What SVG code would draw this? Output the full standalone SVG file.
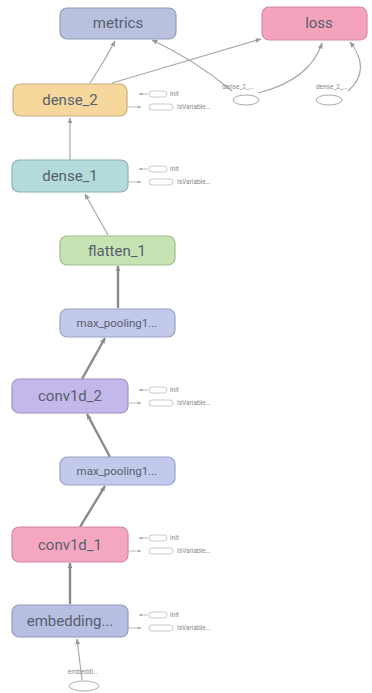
<svg xmlns="http://www.w3.org/2000/svg" width="372" height="693" viewBox="0 0 372 693">
<defs>
<marker id="ah" viewBox="0 0 10 10" refX="9" refY="5" markerWidth="5" markerHeight="5" orient="auto"><path d="M0,1 L10,5 L0,9 z" fill="#999"/></marker>
<marker id="aht" viewBox="0 0 10 10" refX="9" refY="5" markerWidth="6" markerHeight="6" markerUnits="userSpaceOnUse" orient="auto"><path d="M0,1 L10,5 L0,9 z" fill="#8a8a8a"/></marker>
<marker id="ahs" viewBox="0 0 10 10" refX="9" refY="5" markerWidth="4" markerHeight="4" orient="auto"><path d="M0,1 L10,5 L0,9 z" fill="#aaa"/></marker>
<style>
.n{stroke-width:1.2}
.lbl{font-family:Roboto,"Liberation Sans",sans-serif;font-size:15px;fill:#56606e;text-anchor:middle;dominant-baseline:central}
.sm{font-family:Roboto,"Liberation Sans",sans-serif;font-size:11.5px;fill:#56606e;text-anchor:middle;dominant-baseline:central}
.tiny{font-family:Roboto,"Liberation Sans",sans-serif;font-size:6.5px;fill:#888;dominant-baseline:central}
.e{fill:none;stroke:#a8a8a8;stroke-width:1.2;marker-end:url(#ah)}
.t{fill:none;stroke:#8a8a8a;stroke-width:2.4;marker-end:url(#aht)}
.ax{fill:none;stroke:#b0b0b0;stroke-width:0.9;marker-end:url(#ahs)}
.ar{fill:#fff;stroke:#bbb;stroke-width:0.8}
.el{fill:#fff;stroke:#aaa;stroke-width:1}
</style>
</defs>
<rect width="372" height="693" fill="#fff"/>
<g id="connectors">
<path class="e" d="M90,83 Q104,62 115,41"/>
<path class="e" d="M112,83 L261,39"/>
<path class="e" d="M232,91 Q195,60 152,40"/>
<path class="e" d="M258,93 Q310,80 322,43"/>
<path class="e" d="M348,91 Q372,70 350,42"/>
<path class="e" d="M70,160 L70,118"/>
<path class="e" d="M108,235 L85,194"/>
<path class="t" d="M118,308 L118,266"/>
<path class="t" d="M82,379 L105,338"/>
<path class="t" d="M110,457 L87,414"/>
<path class="t" d="M80,527 L105,486"/>
<path class="t" d="M70,604 L70,563"/>
<path class="e" d="M82,680 L77,639"/>
</g>
<g id="metrics"><rect class="n" x="60" y="8" width="116" height="31" rx="7" fill="#b9c1de" stroke="#939bb8"/><text class="lbl" x="118" y="23">metrics</text></g>
<g id="loss"><rect class="n" x="262" y="7" width="105" height="33" rx="7" fill="#f5a3bd" stroke="#d68aa2"/><text class="lbl" x="319" y="23">loss</text></g>
<g id="dense_2_target"><text class="tiny" x="238" y="87" text-anchor="middle">dense_2_...</text><ellipse class="el" cx="246" cy="100" rx="13" ry="5"/></g>
<g id="dense_2_sample_weights"><text class="tiny" x="332" y="87" text-anchor="middle">dense_2_...</text><ellipse class="el" cx="329" cy="100" rx="13" ry="5"/></g>
<g id="dense_2"><rect class="n" x="13" y="84" width="114" height="32" rx="7" fill="#f6d89c" stroke="#c8ae7e"/><text class="lbl" x="70" y="100">dense_2</text>
<path class="ax" d="M148,94 L139,94"/><rect class="ar" x="149" y="91" width="18" height="6" rx="3"/><text class="tiny" x="170" y="94">init</text>
<path class="ax" d="M128,107 L141,107"/><rect class="ar" x="149" y="104" width="24" height="6" rx="3"/><text class="tiny" x="177" y="107">IsVariable...</text></g>
<g id="dense_1"><rect class="n" x="12" y="160" width="116" height="32" rx="7" fill="#b3dbdc" stroke="#8db0b1"/><text class="lbl" x="70" y="176">dense_1</text>
<path class="ax" d="M148,169 L139,169"/><rect class="ar" x="149" y="166" width="18" height="6" rx="3"/><text class="tiny" x="170" y="169">init</text>
<path class="ax" d="M128,182 L141,182"/><rect class="ar" x="149" y="179" width="24" height="6" rx="3"/><text class="tiny" x="177" y="182">IsVariable...</text></g>
<g id="flatten_1"><rect class="n" x="60" y="236" width="115" height="29" rx="7" fill="#c6e3b3" stroke="#9fbb8e"/><text class="lbl" x="117" y="250.5">flatten_1</text></g>
<g id="max_pooling1d_2"><rect class="n" x="60" y="309" width="115" height="28" rx="7" fill="#c3c9ea" stroke="#9aa1c4"/><text class="sm" x="117" y="323">max_pooling1...</text></g>
<g id="conv1d_2"><rect class="n" x="12" y="379" width="116" height="34" rx="7" fill="#c4b7ea" stroke="#9d90c4"/><text class="lbl" x="70" y="396">conv1d_2</text>
<path class="ax" d="M148,390 L139,390"/><rect class="ar" x="149" y="387" width="18" height="6" rx="3"/><text class="tiny" x="170" y="390">init</text>
<path class="ax" d="M128,403 L141,403"/><rect class="ar" x="149" y="400" width="24" height="6" rx="3"/><text class="tiny" x="177" y="403">IsVariable...</text></g>
<g id="max_pooling1d_1"><rect class="n" x="60" y="457" width="115" height="28" rx="7" fill="#c3c9ea" stroke="#9aa1c4"/><text class="sm" x="117" y="471">max_pooling1...</text></g>
<g id="conv1d_1"><rect class="n" x="12" y="527" width="116" height="35" rx="7" fill="#f5a7c2" stroke="#cf869f"/><text class="lbl" x="70" y="544.5">conv1d_1</text>
<path class="ax" d="M148,538 L139,538"/><rect class="ar" x="149" y="535" width="18" height="6" rx="3"/><text class="tiny" x="170" y="538">init</text>
<path class="ax" d="M128,551 L141,551"/><rect class="ar" x="149" y="548" width="24" height="6" rx="3"/><text class="tiny" x="177" y="551">IsVariable...</text></g>
<g id="embedding_1"><rect class="n" x="12" y="605" width="116" height="32" rx="7" fill="#b6bfe2" stroke="#9199bd"/><text class="lbl" x="70" y="621">embedding...</text>
<path class="ax" d="M148,615 L139,615"/><rect class="ar" x="149" y="612" width="18" height="6" rx="3"/><text class="tiny" x="170" y="615">init</text>
<path class="ax" d="M128,628 L141,628"/><rect class="ar" x="149" y="625" width="24" height="6" rx="3"/><text class="tiny" x="177" y="628">IsVariable...</text></g>
<g id="embedding_1_input"><text class="tiny" x="83" y="672" text-anchor="middle">embeddi...</text><ellipse class="el" cx="84" cy="686" rx="15" ry="5"/></g>
</svg>
